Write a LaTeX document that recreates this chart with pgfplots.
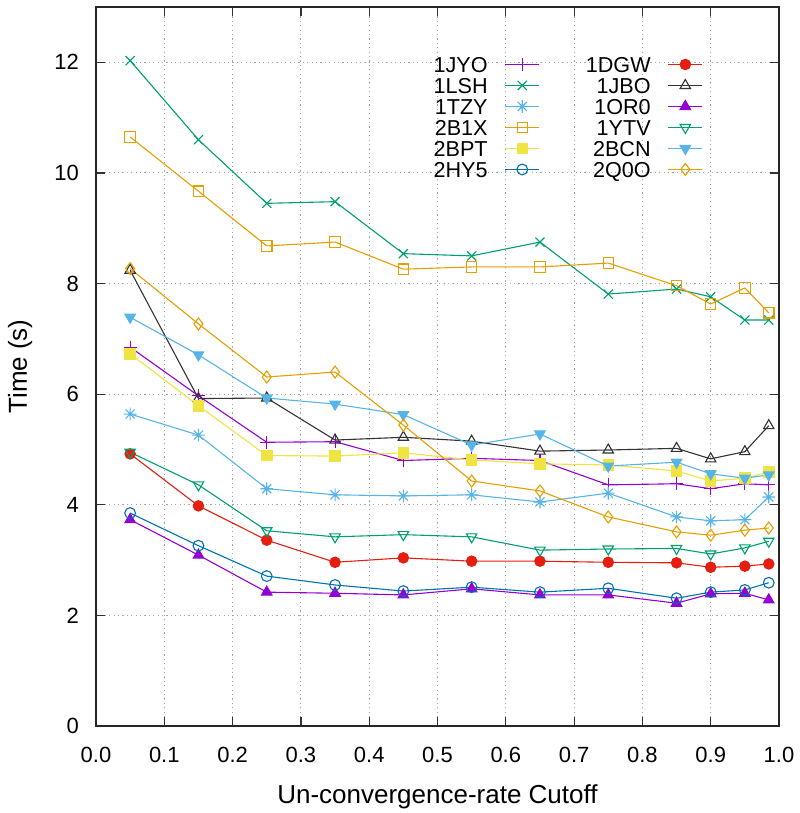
\documentclass[border=0pt]{standalone}
\usepackage{fontspec}
\setmainfont{Liberation Sans}
\usepackage{pgfplots}
\pgfplotsset{compat=1.18}
\definecolor{gpurple}{HTML}{9400D3}
\definecolor{ggreen}{HTML}{009E73}
\definecolor{gsky}{HTML}{56B4E9}
\definecolor{gorange}{HTML}{E69F00}
\definecolor{gyellow}{HTML}{F0E442}
\definecolor{gblue}{HTML}{0072B2}
\definecolor{gred}{HTML}{E51E10}
\pgfdeclareplotmark{plusx}{%
  \pgfpathmoveto{\pgfqpoint{-\pgfplotmarksize}{0pt}}\pgfpathlineto{\pgfqpoint{\pgfplotmarksize}{0pt}}%
  \pgfpathmoveto{\pgfqpoint{0pt}{-\pgfplotmarksize}}\pgfpathlineto{\pgfqpoint{0pt}{\pgfplotmarksize}}%
  \pgfpathmoveto{\pgfqpoint{-0.707\pgfplotmarksize}{-0.707\pgfplotmarksize}}\pgfpathlineto{\pgfqpoint{0.707\pgfplotmarksize}{0.707\pgfplotmarksize}}%
  \pgfpathmoveto{\pgfqpoint{-0.707\pgfplotmarksize}{0.707\pgfplotmarksize}}\pgfpathlineto{\pgfqpoint{0.707\pgfplotmarksize}{-0.707\pgfplotmarksize}}%
  \pgfusepathqstroke}
\begin{document}
\begin{tikzpicture}
\begin{axis}[
  name=ax,
  scale only axis,
  width=341.5pt, height=359.5pt,
  xmin=0, xmax=1, ymin=0, ymax=13,
  xtick={0,0.1,0.2,0.3,0.4,0.5,0.6,0.7,0.8,0.9,1.0},
  ytick={0,2,4,6,8,10,12},
  xticklabel style={yshift=-7pt, /pgf/number format/fixed, /pgf/number format/fixed zerofill, /pgf/number format/precision=1},
  /pgf/number format/assume math mode=true,
  tick label style={font=\fontsize{11}{13}\selectfont},
  yticklabel style={xshift=-5pt},
  tick align=inside,
  major tick length=4.5pt,
  axis line style={line width=0.9pt, black!85},
  every tick/.style={black!80, line width=0.6pt},
  grid=major,
  major grid style={gray!70, line width=0.5pt, dash pattern=on 0.6pt off 1.6pt},
  xlabel={Un-convergence-rate Cutoff},
  ylabel={Time (s)},
  label style={font=\fontsize{13}{15}\selectfont},
  xlabel style={at={(axis description cs:0.5,-0.0987)}, anchor=center},
  ylabel style={at={(axis description cs:-0.111,0.5)}, anchor=center},
  every axis plot/.append style={line width=0.55pt},
  legend columns=2,
  legend plot pos=right,
  legend cell align=right,
  legend style={draw=none, fill=none, at={(0.898,0.937)}, anchor=north east,
    font=\fontsize{10.8}{12}\selectfont,
    nodes={inner sep=0pt, text height=7.8pt, text depth=0pt},
    row sep=2.7pt, column sep=8.5pt,
    /tikz/every even column/.append style={column sep=23pt}},
]
\addplot[color=gpurple, mark=+, mark size=3.2pt] coordinates {
(0.05,6.85) (0.15,5.97) (0.25,5.13) (0.35,5.14) (0.45,4.80) (0.55,4.84) (0.65,4.80) (0.75,4.36) (0.85,4.38) (0.9,4.29) (0.95,4.38) (0.985,4.36)};
\addlegendentry{1JYO}
\addplot[color=gred, mark=*, mark size=2.6pt] coordinates {
(0.05,4.92) (0.15,3.98) (0.25,3.36) (0.35,2.96) (0.45,3.04) (0.55,2.98) (0.65,2.98) (0.75,2.96) (0.85,2.95) (0.9,2.87) (0.95,2.89) (0.985,2.93)};
\addlegendentry{1DGW}
\addplot[color=ggreen, mark=x, mark size=3.2pt] coordinates {
(0.05,12.03) (0.15,10.60) (0.25,9.45) (0.35,9.48) (0.45,8.54) (0.55,8.50) (0.65,8.75) (0.75,7.81) (0.85,7.90) (0.9,7.76) (0.95,7.34) (0.985,7.34)};
\addlegendentry{1LSH}
\addplot[color=black!80, mark=triangle, mark size=3pt] coordinates {
(0.05,8.24) (0.15,5.92) (0.25,5.93) (0.35,5.17) (0.45,5.22) (0.55,5.15) (0.65,4.97) (0.75,4.99) (0.85,5.02) (0.9,4.83) (0.95,4.96) (0.985,5.43)};
\addlegendentry{1JBO}
\addplot[color=gsky, mark=plusx, mark size=3.2pt] coordinates {
(0.05,5.64) (0.15,5.26) (0.25,4.29) (0.35,4.18) (0.45,4.16) (0.55,4.18) (0.65,4.05) (0.75,4.21) (0.85,3.78) (0.9,3.71) (0.95,3.73) (0.985,4.14)};
\addlegendentry{1TZY}
\addplot[color=gpurple, mark=triangle*, mark size=3pt] coordinates {
(0.05,3.73) (0.15,3.09) (0.25,2.42) (0.35,2.40) (0.45,2.37) (0.55,2.48) (0.65,2.37) (0.75,2.37) (0.85,2.22) (0.9,2.39) (0.95,2.40) (0.985,2.28)};
\addlegendentry{1OR0}
\addplot[color=gorange, mark=square, mark size=2.6pt] coordinates {
(0.05,10.65) (0.15,9.67) (0.25,8.68) (0.35,8.75) (0.45,8.26) (0.55,8.30) (0.65,8.30) (0.75,8.37) (0.85,7.96) (0.9,7.63) (0.95,7.92) (0.985,7.47)};
\addlegendentry{2B1X}
\addplot[color=ggreen, mark=triangle, mark size=3pt, mark options={rotate=180}] coordinates {
(0.05,4.95) (0.15,4.36) (0.25,3.53) (0.35,3.42) (0.45,3.46) (0.55,3.42) (0.65,3.18) (0.75,3.20) (0.85,3.21) (0.9,3.11) (0.95,3.22) (0.985,3.34)};
\addlegendentry{1YTV}
\addplot[color=gyellow, mark=square*, mark size=2.6pt] coordinates {
(0.05,6.73) (0.15,5.79) (0.25,4.89) (0.35,4.88) (0.45,4.94) (0.55,4.81) (0.65,4.74) (0.75,4.72) (0.85,4.61) (0.9,4.43) (0.95,4.48) (0.985,4.59)};
\addlegendentry{2BPT}
\addplot[color=gsky, mark=triangle*, mark size=3pt, mark options={rotate=180}] coordinates {
(0.05,7.39) (0.15,6.71) (0.25,5.93) (0.35,5.82) (0.45,5.63) (0.55,5.08) (0.65,5.28) (0.75,4.70) (0.85,4.77) (0.9,4.56) (0.95,4.48) (0.985,4.54)};
\addlegendentry{2BCN}
\addplot[color=gblue, mark=o, mark size=2.7pt] coordinates {
(0.05,3.85) (0.15,3.26) (0.25,2.71) (0.35,2.55) (0.45,2.44) (0.55,2.51) (0.65,2.42) (0.75,2.49) (0.85,2.31) (0.9,2.42) (0.95,2.46) (0.985,2.59)};
\addlegendentry{2HY5}
\addplot[color=gorange, mark=diamond, mark size=3pt] coordinates {
(0.05,8.27) (0.15,7.27) (0.25,6.31) (0.35,6.40) (0.45,5.44) (0.55,4.43) (0.65,4.25) (0.75,3.78) (0.85,3.51) (0.9,3.45) (0.95,3.54) (0.985,3.58)};
\addlegendentry{2Q0O}
\end{axis}
\pgfresetboundingbox
\path[use as bounding box] ([xshift=-48pt,yshift=-43.5pt]ax.south west) rectangle ([xshift=10.5pt,yshift=3.5pt]ax.north east);
\end{tikzpicture}
\end{document}
